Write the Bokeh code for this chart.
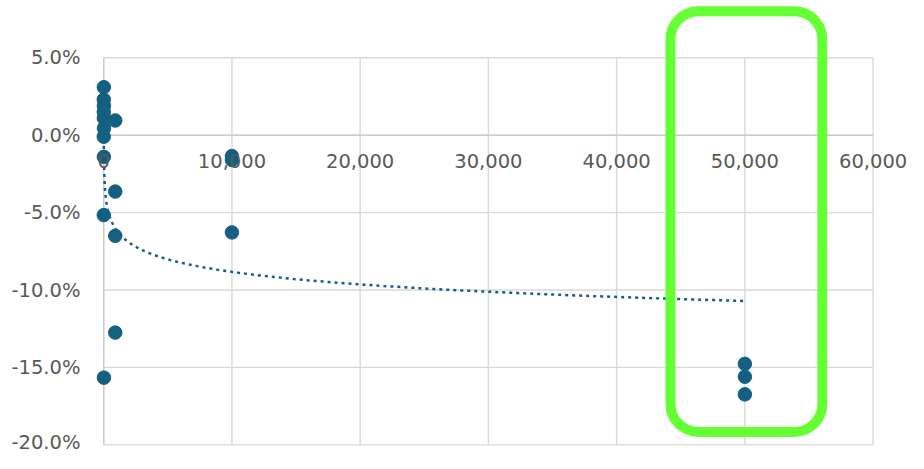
import numpy as np
from bokeh.plotting import figure
from bokeh.models import (ColumnDataSource, Range1d, LinearAxis, FixedTicker,
                          NumeralTickFormatter, BoxAnnotation)
from bokeh.embed import file_html
from bokeh.resources import INLINE

# ---- data ----
x_values = [12, 6, 17, 8, 14, 22, 3, 12, 6, 17,
            900, 900, 900, 900,
            10000, 10000, 10000,
            50000, 50000, 50000]
y_values = [0.031, 0.023, 0.019, 0.015, 0.011, 0.0045, -0.001, -0.014, -0.0516, -0.1566,
            0.0095, -0.0364, -0.065, -0.1275,
            -0.0135, -0.016, -0.0628,
            -0.1477, -0.156, -0.1674]

x_ticks = [0, 10000, 20000, 30000, 40000, 50000, 60000]
y_ticks = [-0.20, -0.15, -0.10, -0.05, 0.0, 0.05]

highlight_x = (44200, 56040)
highlight_y = (-0.1917, 0.0800)

# ---- logarithmic trendline (least squares on ln x, as the spreadsheet does) ----
xa = np.array(x_values, dtype=float)
ya = np.array(y_values, dtype=float)
a, b = np.polyfit(np.log(xa), ya, 1)
tx = np.geomspace(xa.min(), xa.max(), 400)
ty = a * np.log(tx) + b

BLUE = "#156082"
GRID = "#d9d9d9"
TEXT = "#595959"
FONT = "DejaVu Sans"

p = figure(width=908, height=453, output_backend="svg", toolbar_location=None,
           x_range=Range1d(-1029, 62761), y_range=Range1d(-0.2056, 0.0870),
           x_axis_type=None, y_axis_type=None,
           min_border_left=90, min_border_right=0, min_border_top=0, min_border_bottom=0)
p.outline_line_color = None
p.background_fill_color = "white"
p.border_fill_color = "white"
p.xgrid.visible = False
p.ygrid.visible = False

# gridlines bounded by the tick arrays
p.segment(x0=[min(x_ticks)] * len(y_ticks), x1=[max(x_ticks)] * len(y_ticks),
          y0=y_ticks, y1=y_ticks, line_color=GRID, line_width=1.4)
p.segment(x0=x_ticks, x1=x_ticks, y0=[min(y_ticks)] * len(x_ticks),
          y1=[max(y_ticks)] * len(x_ticks), line_color=GRID, line_width=1.4)
p.segment(x0=[min(x_ticks)], x1=[max(x_ticks)], y0=[0], y1=[0],
          line_color="#cccccc", line_width=1.6)
p.segment(x0=[0], x1=[0], y0=[min(y_ticks)], y1=[max(y_ticks)],
          line_color="#cccccc", line_width=1.4)

# y axis (left)
yax = LinearAxis(ticker=FixedTicker(ticks=y_ticks),
                 formatter=NumeralTickFormatter(format="0.0%"))
yax.axis_line_color = None
yax.major_tick_line_color = None
yax.minor_tick_line_color = None
yax.major_tick_out = 0
yax.major_tick_in = 0
yax.minor_tick_out = 0
yax.minor_tick_in = 0
yax.major_label_standoff = 10
yax.major_label_text_font = FONT
yax.major_label_text_font_size = "19.5px"
yax.major_label_text_color = TEXT
p.add_layout(yax, "left")

# x axis crossing at y = 0
xax = LinearAxis(ticker=FixedTicker(ticks=x_ticks),
                 formatter=NumeralTickFormatter(format="0,0"), fixed_location=0)
xax.axis_line_color = None
xax.major_tick_line_color = None
xax.minor_tick_line_color = None
xax.major_tick_out = 0
xax.major_tick_in = 0
xax.minor_tick_out = 0
xax.minor_tick_in = 0
xax.major_label_standoff = 19
xax.major_label_text_font = FONT
xax.major_label_text_font_size = "19.5px"
xax.major_label_text_color = TEXT
p.add_layout(xax, "below")

src = ColumnDataSource(dict(x=x_values, y=y_values))
p.line(tx, ty, line_color=BLUE, line_width=2.5, line_dash="3 4")
p.scatter("x", "y", source=src, size=13.5, fill_color=BLUE, line_color=BLUE)

box = BoxAnnotation(left=highlight_x[0], right=highlight_x[1],
                    bottom=highlight_y[0], top=highlight_y[1],
                    fill_color=None, fill_alpha=0, line_color="#66ff33",
                    line_alpha=1.0, line_width=10, border_radius=28)
p.add_layout(box)

open("out.html", "w").write(file_html(p, INLINE))
